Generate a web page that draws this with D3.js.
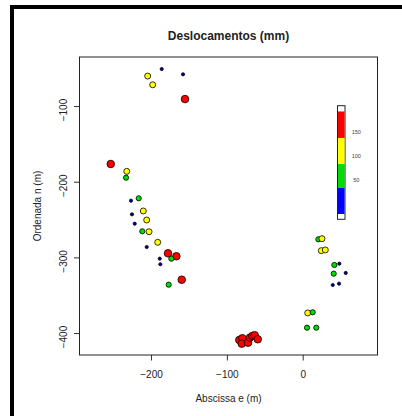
<!DOCTYPE html>
<html>
<head>
<meta charset="utf-8">
<script src="https://cdn.jsdelivr.net/npm/d3@7"></script>
<style>
  body { margin: 0; background: #fff; }
  text { font-family: "Liberation Sans", Arial, Helvetica, sans-serif; fill: #222; }
</style>
</head>
<body>
<div id="chart"></div>
<script>
// point coordinates (m) and displacement (mm)
var eastings = [-185.9, -157.8, -204.4, -197.8, -155.2,
  -253.1, -232.0, -232.9, -216.2, -226.4, -225.1, -210.2, -205.7, -221.5, -211.5,
  -202.6, -191.2, -205.7, -177.6, -166.6, -173.2, -188.5, -187.7, -159.5, -176.7,
  -83.6, -79.6, -80.4, -72.1, -69.5, -66.4, -63.3, -59.3,
  20.6, 25.4, 24.5, 29.8, 41.7, 48.3, 40.9, 56.7, 39.6, 47.9, 6.6, 13.2, 5.7, 17.9];
var northings = [-51.1, -58.1, -60.4, -71.9, -90.8,
  -176.6, -186.3, -194.7, -221.9, -225.1, -243.1, -238.7, -250.6, -255.5, -265.5,
  -266.1, -280.1, -286.3, -294.6, -298.5, -301.7, -301.7, -309.1, -329.5, -336.1,
  -409.1, -406.9, -414.0, -412.7, -406.1, -403.8, -402.9, -408.2,
  -276.1, -275.3, -291.1, -290.2, -310.0, -308.3, -321.5, -320.6, -336.5, -334.7, -373.4, -372.5, -392.9, -392.9];
var desloc = [30, 30, 125, 125, 175,
  175, 125, 75, 75, 30, 30, 125, 125, 30, 75,
  125, 125, 30, 175, 175, 75, 30, 30, 175, 75,
  175, 175, 175, 175, 175, 175, 175, 175,
  75, 125, 125, 125, 75, 30, 75, 30, 30, 30, 125, 75, 75, 75];

var xTicks = [-200, -100, 0];
var yTicks = [-400, -300, -200, -100];

// colour classes of the legend
var classBreaks = [50, 100, 150];
var classColors = ["#0000ff", "#00dd00", "#ffff00", "#ff0000"];
var legendEdges = [-20, 34, 84, 138, 193];
var legendTicks = [50, 100, 150];

var W = 402, H = 416;
var plot = {left: 79.5, right: 377.5, top: 57, bottom: 355};

var svg = d3.select("#chart").append("svg")
  .attr("width", W).attr("height", H);

// outer frame (only top and left edges show)
svg.append("rect").attr("x", 10).attr("y", 5).attr("width", 392).attr("height", 4).attr("fill", "#000");
svg.append("rect").attr("x", 10).attr("y", 5).attr("width", 4).attr("height", 411).attr("fill", "#000");

var x = d3.scaleLinear().domain([-294.3, 98.6]).range([plot.left, plot.right]);
var y = d3.scaleLinear().domain([-35.2, -429]).range([plot.top, plot.bottom]);

var color = d3.scaleThreshold().domain(classBreaks).range(classColors);
var radius = d3.scaleThreshold().domain(classBreaks).range([1.6, 2.6, 3.0, 3.8]);

// title
svg.append("text")
  .attr("x", (plot.left + plot.right) / 2).attr("y", 40)
  .attr("text-anchor", "middle")
  .style("font-size", "12px").style("font-weight", "bold")
  .text("Deslocamentos (mm)");

// x axis
var xAxis = svg.append("g")
  .attr("transform", "translate(0," + plot.bottom + ")")
  .call(d3.axisBottom(x).tickValues(xTicks).tickSize(5.5).tickPadding(10).tickFormat(d3.format("d")));
xAxis.select(".domain").remove();
xAxis.selectAll("line").attr("stroke", "#333");
xAxis.selectAll("text").style("font-size", "10px").style("font-family", "Liberation Sans, Arial, sans-serif").attr("fill", "#222");

// y axis, labels turned like R
var yAxis = svg.append("g")
  .attr("transform", "translate(" + plot.left + ",0)")
  .call(d3.axisLeft(y).tickValues(yTicks).tickSize(5.5).tickFormat(d3.format("d")));
yAxis.select(".domain").remove();
yAxis.selectAll("line").attr("stroke", "#333");
yAxis.selectAll("text")
  .attr("x", null).attr("dy", null)
  .attr("text-anchor", "middle")
  .attr("transform", "translate(-13,3.5) rotate(-90)")
  .attr("y", 0)
  .style("font-size", "10px").style("font-family", "Liberation Sans, Arial, sans-serif").attr("fill", "#222");

// axis titles
svg.append("text")
  .attr("x", (plot.left + plot.right) / 2).attr("y", 402)
  .attr("text-anchor", "middle").style("font-size", "10px")
  .text("Abscissa e (m)");
svg.append("text")
  .attr("transform", "translate(40.5," + (plot.top + plot.bottom) / 2 + ") rotate(-90)")
  .attr("text-anchor", "middle").style("font-size", "10px")
  .text("Ordenada n (m)");

// plot box
svg.append("rect")
  .attr("x", plot.left).attr("y", plot.top)
  .attr("width", plot.right - plot.left).attr("height", plot.bottom - plot.top)
  .attr("fill", "none").attr("stroke", "#222").attr("stroke-width", 1);

// points
var pts = eastings.map(function(e, i) { return {e: e, n: northings[i], d: desloc[i]}; });
svg.append("g").selectAll("circle")
  .data(pts)
  .enter().append("circle")
    .attr("cx", function(d) { return x(d.e); })
    .attr("cy", function(d) { return y(d.n); })
    .attr("r", function(d) { return radius(d.d); })
    .attr("fill", function(d) { return d.d < 50 ? "#0000aa" : color(d.d); })
    .attr("stroke", "#000")
    .attr("stroke-width", 0.8);

// colour legend
var ly = d3.scaleLinear().domain([-31, 205]).range([219.3, 105.7]);
var leg = svg.append("g");
leg.append("rect")
  .attr("x", 337.5).attr("y", ly(205)).attr("width", 7.5).attr("height", ly(-31) - ly(205))
  .attr("fill", "#fff").attr("stroke", "#222").attr("stroke-width", 1);
leg.selectAll(".seg")
  .data(classColors)
  .enter().append("rect")
    .attr("class", "seg")
    .attr("x", 338).attr("width", 6.5)
    .attr("y", function(c, i) { return ly(legendEdges[i + 1]); })
    .attr("height", function(c, i) { return ly(legendEdges[i]) - ly(legendEdges[i + 1]); })
    .attr("fill", function(c) { return c; });
leg.selectAll(".lab")
  .data(legendTicks)
  .enter().append("text")
    .attr("class", "lab")
    .attr("x", 356.3).attr("y", function(d) { return ly(d) + 2; })
    .attr("text-anchor", "middle")
    .style("font-size", "5.6px").style("fill", "#444")
    .text(function(d) { return d; });
</script>
</body>
</html>
